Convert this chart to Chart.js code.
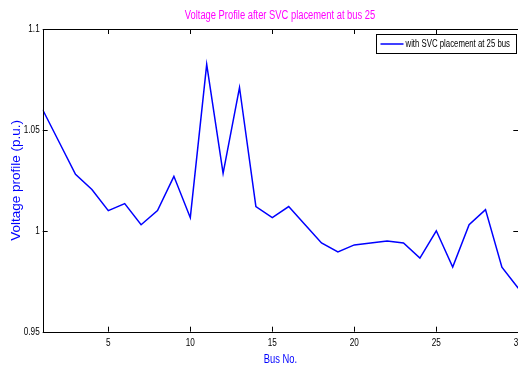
<!DOCTYPE html>
<html>
<head>
<meta charset="utf-8">
<script src="https://cdn.jsdelivr.net/npm/chart.js@4.4.1/dist/chart.umd.min.js"></script>
<style>
  html, body { margin: 0; padding: 0; background: #fff; overflow: hidden; }
  #wrap { width: 560px; height: 365px; }
</style>
</head>
<body>
<div id="wrap"><canvas id="chart" width="560" height="365"></canvas></div>
<script>
// bus numbers and voltage after SVC placement at bus 25
const busNo = [1, 2, 3, 4, 5, 6, 7, 8, 9, 10, 11, 12, 13, 14, 15,
  16, 17, 18, 19, 20, 21, 22, 23, 24, 25, 26, 27, 28, 29, 30];
const voltage = [1.060, 1.044, 1.028, 1.0205, 1.010, 1.0135, 1.003, 1.010, 1.027, 1.0065,
  1.0825, 1.0285, 1.071, 1.012, 1.0065, 1.012, 1.003, 0.994, 0.9895, 0.993,
  0.994, 0.995, 0.994, 0.9865, 1.000, 0.982, 1.003, 1.0105, 0.982, 0.9715];
const xTicks = [5, 10, 15, 20, 25, 30];
const yTicks = [0.95, 1, 1.05, 1.1];
const yTickLabels = ['0.95', '1', '1.05', '1.1'];

const font = "'Liberation Sans', Arial, sans-serif";
const squeeze = 0.78; // the source figure was squashed sideways

const canvas = document.getElementById('chart');
const ctx2d = canvas.getContext('2d');
// horizontal text gets squeezed around its anchor, rotated text stays as is
const plainFillText = ctx2d.fillText;
ctx2d.fillText = function (text, x, y, maxWidth) {
  const m = this.getTransform();
  if (m.b === 0 && m.c === 0) {
    this.save();
    this.translate(x, y);
    this.scale(squeeze, 1);
    plainFillText.call(this, text, 0, 0);
    this.restore();
  } else {
    plainFillText.call(this, text, x, y, maxWidth);
  }
};

// MATLAB style frame, inward ticks and boxed legend
const matlabAxes = {
  id: 'matlabAxes',
  afterDraw(chart) {
    const { ctx, chartArea: a, scales } = chart;
    ctx.save();
    ctx.strokeStyle = '#000';
    ctx.lineWidth = 1;
    ctx.strokeRect(Math.round(a.left) + 0.5, Math.round(a.top) + 0.5,
      Math.round(a.right - a.left), Math.round(a.bottom - a.top));
    const len = 5;
    ctx.beginPath();
    xTicks.forEach(v => {
      const px = Math.round(scales.x.getPixelForValue(v)) + 0.5;
      ctx.moveTo(px, a.bottom); ctx.lineTo(px, a.bottom - len);
      ctx.moveTo(px, a.top); ctx.lineTo(px, a.top + len);
    });
    yTicks.forEach(v => {
      const py = Math.round(scales.y.getPixelForValue(v)) + 0.5;
      ctx.moveTo(a.left, py); ctx.lineTo(a.left + len, py);
      ctx.moveTo(a.right, py); ctx.lineTo(a.right - len, py);
    });
    ctx.stroke();

    // legend
    const ds = chart.data.datasets[0];
    const bx = Math.round(a.right - 142) + 0.5, by = Math.round(a.top + 5) + 0.5;
    const bw = 140, bh = 19;
    ctx.fillStyle = '#fff';
    ctx.fillRect(bx, by, bw, bh);
    ctx.strokeRect(bx, by, bw, bh);
    ctx.strokeStyle = ds.borderColor;
    ctx.lineWidth = 1.5;
    ctx.beginPath();
    ctx.moveTo(bx + 4, by + 9.5); ctx.lineTo(bx + 27, by + 9.5);
    ctx.stroke();
    ctx.fillStyle = '#000';
    ctx.font = '10px ' + font;
    ctx.textBaseline = 'middle';
    ctx.fillText(ds.label, bx + 29, by + 10);
    ctx.restore();
  }
};

new Chart(canvas, {
  type: 'line',
  data: {
    labels: busNo,
    datasets: [{
      label: 'with SVC placement at 25 bus',
      data: busNo.map((b, i) => ({ x: b, y: voltage[i] })),
      borderColor: '#0000ff',
      borderWidth: 1.5,
      pointRadius: 0,
      tension: 0,
      fill: false
    }]
  },
  options: {
    responsive: false,
    animation: false,
    layout: { padding: 0 },
    plugins: {
      legend: { display: false },
      tooltip: { enabled: false },
      title: {
        display: true,
        text: 'Voltage Profile after SVC placement at bus 25',
        color: '#ff00ff',
        font: { family: font, size: 12, weight: 'normal' },
        padding: { top: 8, bottom: 6.6 }
      }
    },
    scales: {
      x: {
        type: 'linear',
        min: 1,
        max: 30,
        afterBuildTicks: s => { s.ticks = xTicks.map(v => ({ value: v })); },
        afterFit: s => { s.height = 33.3; },
        grid: { display: false, drawTicks: false },
        border: { display: false },
        ticks: { color: '#000', padding: 5, maxRotation: 0, font: { family: font, size: 10.5 } },
        title: { display: true, text: 'Bus No.', color: '#0000ff', padding: { top: 0, bottom: -2 },
          font: { family: font, size: 12 } }
      },
      y: {
        min: 0.95,
        max: 1.1,
        afterBuildTicks: s => { s.ticks = yTicks.map(v => ({ value: v })); },
        afterFit: s => { s.width = 42.7; },
        grid: { display: false, drawTicks: false },
        border: { display: false },
        ticks: {
          color: '#000', padding: 3, font: { family: font, size: 10.5 },
          callback: v => yTickLabels[yTicks.indexOf(v)]
        },
        title: { display: true, text: 'Voltage profile (p.u.)', color: '#0000ff',
          padding: { top: 8, bottom: 0 }, font: { family: font, size: 13.5 } }
      },
      y2: {
        position: 'right',
        min: 0.95,
        max: 1.1,
        afterFit: s => { s.width = 41.7; },
        grid: { display: false, drawTicks: false },
        border: { display: false },
        ticks: { display: false }
      }
    }
  },
  plugins: [matlabAxes]
});
</script>
</body>
</html>
